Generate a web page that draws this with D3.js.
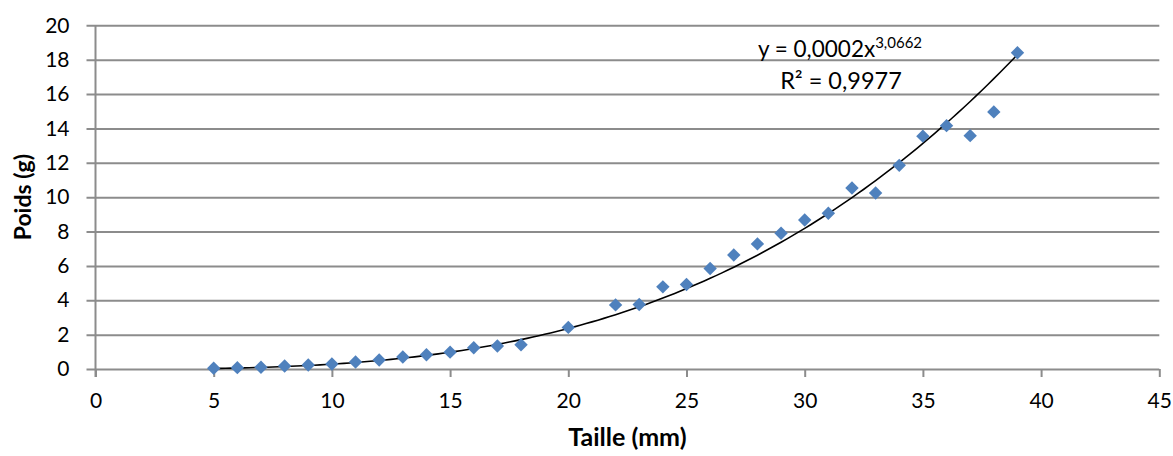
<!DOCTYPE html>
<html>
<head>
<meta charset="utf-8">
<script src="https://cdn.jsdelivr.net/npm/d3@7"></script>
<style>
  body { margin: 0; background: #fff; }
  text { font-family: Lato, "Open Sans", sans-serif; fill: #000; }
</style>
</head>
<body>
<div id="chart"></div>
<script>
// data
var taille = [5, 6, 7, 8, 9, 10, 11, 12, 13, 14, 15, 16, 17, 18, 20, 22, 23, 24, 25, 26, 27, 28, 29, 30, 31, 32, 33, 34, 35, 36, 37, 38, 39]
var poids = [0.04, 0.08, 0.1, 0.17, 0.23, 0.29, 0.41, 0.52, 0.7, 0.83, 0.98, 1.24, 1.34, 1.41, 2.42, 3.73, 3.75, 4.78, 4.92, 5.85, 6.63, 7.28, 7.9, 8.67, 9.06, 10.53, 10.24, 11.85, 13.55, 14.16, 13.58, 14.96, 18.4]
var xTicks = [0, 5, 10, 15, 20, 25, 30, 35, 40, 45]
var yTicks = [0, 2, 4, 6, 8, 10, 12, 14, 16, 18, 20]
// power trendline y = a * x^b (coefficient shown rounded in the label)
var trendA = 0.000242
var trendB = 3.0662
var trendLabel = ["y = 0,0002x", "3,0662", "R² = 0,9977"]

function draw_chart(config) {
    var width = config.width
    var height = config.height
    var margin = config.margin

    var svg = d3.select(config.placeholder).append("svg")
        .attr("width", width)
        .attr("height", height)

    var x = d3.scaleLinear().domain([0, 45]).range([margin.left, width - margin.right])
    var y = d3.scaleLinear().domain([0, 20]).range([height - margin.bottom, margin.top])

    var gridColor = "#8c8c8c"

    // horizontal gridlines + y axis
    var yAxis = svg.append("g")
        .attr("transform", `translate(${margin.left},0)`)
        .call(d3.axisLeft(y).tickValues(yTicks).tickSize(9).tickPadding(17))
    yAxis.select(".domain").remove()
    yAxis.selectAll(".tick line")
        .attr("x2", width - margin.right - margin.left)
        .attr("x1", -9)
        .attr("stroke", gridColor).attr("stroke-width", 2)
    yAxis.selectAll(".tick text")
        .attr("font-size", 21).attr("font-family", "Lato")

    // x axis
    var xAxis = svg.append("g")
        .attr("transform", `translate(0,${y(0)})`)
        .call(d3.axisBottom(x).tickValues(xTicks).tickSize(8).tickPadding(16))
    xAxis.select(".domain").remove()
    xAxis.selectAll(".tick line").attr("stroke", gridColor).attr("stroke-width", 2)
    xAxis.selectAll(".tick text")
        .attr("font-size", 21).attr("font-family", "Lato")

    // vertical axis line
    svg.append("line")
        .attr("x1", x(0)).attr("x2", x(0))
        .attr("y1", y(20)).attr("y2", y(0) + 8)
        .attr("stroke", gridColor).attr("stroke-width", 2)

    // trendline
    var trendData = d3.range(taille[0], taille[taille.length - 1] + 0.001, 0.25)
    svg.append("path")
        .datum(trendData)
        .attr("fill", "none")
        .attr("stroke", "#000")
        .attr("stroke-width", 1.6)
        .attr("d", d3.line()
            .x(function (d) { return x(d) })
            .y(function (d) { return y(trendA * Math.pow(d, trendB)) }))

    // points
    var diamond = d3.symbol().type(d3.symbolSquare).size(90)
    svg.selectAll("path.pt")
        .data(taille)
        .enter().append("path")
        .attr("class", "pt")
        .attr("d", diamond)
        .attr("fill", "#4f81bd")
        .attr("transform", function (d, i) {
            return `translate(${x(d)},${y(poids[i])}) rotate(45)`
        })

    // trendline label
    var eq = svg.append("text")
        .attr("x", 840).attr("y", 57)
        .attr("text-anchor", "middle")
        .attr("font-size", 22.5)
    eq.append("tspan").text(trendLabel[0])
    eq.append("tspan").attr("font-size", 15).attr("dy", -9).text(trendLabel[1])
    svg.append("text")
        .attr("x", 841).attr("y", 89)
        .attr("text-anchor", "middle")
        .attr("font-size", 23.5)
        .text(trendLabel[2])

    // axis titles
    svg.append("text")
        .attr("x", (x(0) + x(45)) / 2).attr("y", 446)
        .attr("text-anchor", "middle")
        .attr("font-size", 25).attr("font-weight", "bold")
        .text("Taille (mm)")
    svg.append("text")
        .attr("transform", `translate(31,${(y(0) + y(20)) / 2}) rotate(-90)`)
        .attr("text-anchor", "middle")
        .attr("font-size", 23).attr("font-weight", "bold")
        .text("Poids (g)")
}

var config = {}
config.placeholder = '#chart'
config.width = 1173
config.height = 456
config.margin = { top: 25.3, right: 13.7, bottom: 87, left: 95.5 }

draw_chart(config)
</script>
</body>
</html>
